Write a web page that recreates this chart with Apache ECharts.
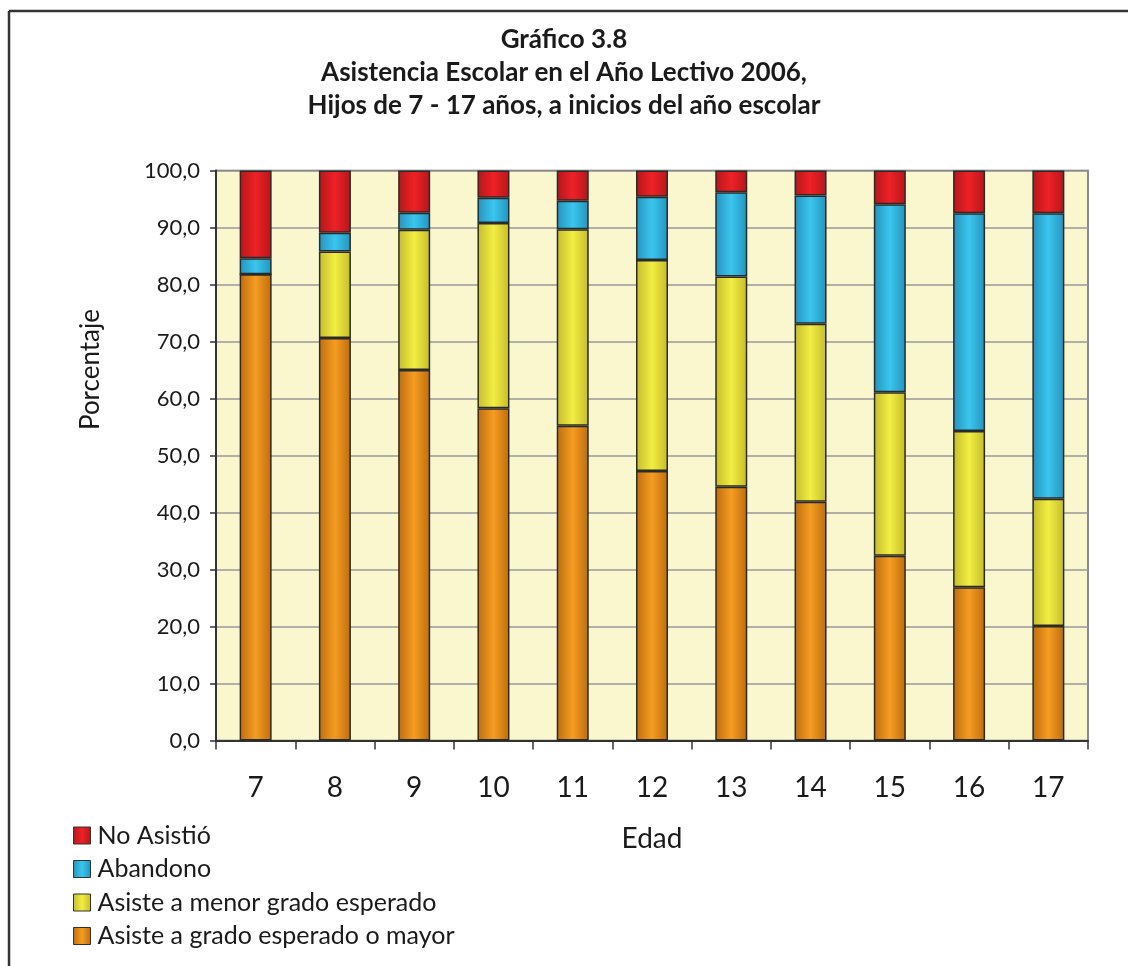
<!DOCTYPE html>
<html>
<head>
<meta charset="utf-8">
<script src="https://cdn.jsdelivr.net/npm/echarts@6/dist/echarts.min.js"></script>
<style>
html,body{margin:0;padding:0;background:#fff;}
#chart{width:1128px;height:966px;}
</style>
</head>
<body>
<div id="chart"></div>
<script>
var categories = ['7','8','9','10','11','12','13','14','15','16','17'];
var gradoEsperado = [81.8, 70.6, 65.0, 58.3, 55.2, 47.3, 44.5, 41.9, 32.4, 26.9, 20.1];
var menorGrado   = [0.0, 15.2, 24.6, 32.5, 34.5, 37.0, 36.9, 31.2, 28.7, 27.4, 22.3];
var abandono     = [2.8, 3.3, 3.0, 4.4, 5.0, 11.1, 14.8, 22.5, 33.0, 38.2, 50.1];
var noAsistio    = [15.4, 10.9, 7.4, 4.8, 5.3, 4.6, 3.8, 4.4, 5.9, 7.5, 7.5];
var seriesNames = ['No Asistió','Abandono','Asiste a menor grado esperado','Asiste a grado esperado o mayor'];
var yTicks = [0,10,20,30,40,50,60,70,80,90,100];

var FONT = 'Lato, "Open Sans", sans-serif';
function grad(edge, center){
  return new echarts.graphic.LinearGradient(0,0,1,0,[
    {offset:0,color:edge},{offset:0.5,color:center},{offset:1,color:edge}
  ]);
}
var colors = {
  orange: grad('#bd6c0e','#f59d22'),
  yellow: grad('#c4bc2c','#f2ee42'),
  blue:   grad('#2593bd','#3ac6ee'),
  red:    grad('#b3171b','#ee2126')
};
function mk(name, data, color){
  return {
    name: name, type:'bar', stack:'total', data:data, barWidth:32,
    itemStyle:{color:color, borderColor:'#2a2a2a', borderWidth:1.5},
    emphasis:{disabled:true}
  };
}
var chart = echarts.init(document.getElementById('chart'), null, {renderer:'canvas'});
chart.setOption({
  animation:false,
  backgroundColor:'#ffffff',
  title:{
    text:'Gráfico 3.8\nAsistencia Escolar en el Año Lectivo 2006,\nHijos de 7 - 17 años, a inicios del año escolar',
    left:'center', top:18,
    textStyle:{fontFamily:FONT, fontWeight:'bold', fontSize:26, lineHeight:33, color:'#1a1a1a'}
  },
  legend:{
    orient:'vertical', left:73, top:823, padding:0, itemGap:8.5, itemWidth:17, itemHeight:17,
    icon:'rect',
    data:seriesNames,
    textStyle:{fontFamily:FONT, fontSize:25, color:'#1a1a1a', padding:[0,0,0,2]},
    itemStyle:{borderColor:'#333', borderWidth:1}
  },
  grid:{left:216, right:40, top:170.5, bottom:225.5, show:true, backgroundColor:'#faf7cf', borderColor:'#666', borderWidth:1.5},
  xAxis:{
    type:'category', data:categories,
    name:'Edad', nameLocation:'middle', nameGap:84,
    nameTextStyle:{fontFamily:FONT, fontSize:28, color:'#1a1a1a'},
    axisLine:{lineStyle:{color:'#333', width:2}},
    axisTick:{show:true, length:9, lineStyle:{color:'#333', width:1.5}},
    axisLabel:{fontFamily:FONT, fontSize:28, color:'#1a1a1a', margin:33}
  },
  yAxis:{
    type:'value', min:0, max:100, interval:10,
    axisLine:{show:true, lineStyle:{color:'#333', width:2}},
    axisTick:{show:true, length:6, lineStyle:{color:'#333', width:1.5}},
    axisLabel:{fontFamily:FONT, fontSize:22, color:'#1a1a1a', margin:16,
      formatter:function(v){return v.toFixed(1).replace('.',',');}},
    splitLine:{show:true, lineStyle:{color:'#999', width:1.5}}
  },
  graphic:[
    {type:'line', shape:{x1:9, y1:11, x2:1128, y2:11}, style:{stroke:'#333', lineWidth:2.5}},
    {type:'line', shape:{x1:9, y1:11, x2:9, y2:966}, style:{stroke:'#333', lineWidth:2.5}},
    {type:'text', left:78, top:309, rotation:Math.PI/2,
      style:{text:'Porcentaje', fontFamily:FONT, fontSize:26, fill:'#1a1a1a'}}
  ],
  series:[
    mk(seriesNames[3], gradoEsperado, colors.orange),
    mk(seriesNames[2], menorGrado, colors.yellow),
    mk(seriesNames[1], abandono, colors.blue),
    mk(seriesNames[0], noAsistio, colors.red)
  ]
});
</script>
</body>
</html>
